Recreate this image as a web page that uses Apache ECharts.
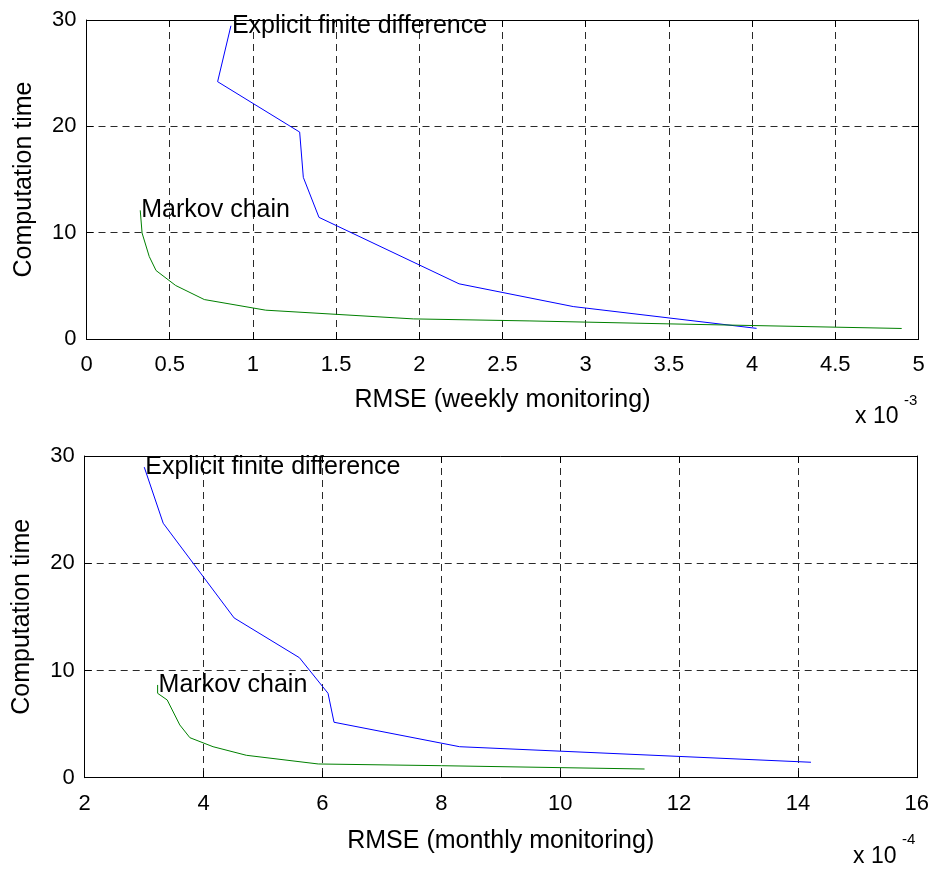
<!DOCTYPE html>
<html>
<head>
<meta charset="utf-8">
<script src="https://cdn.jsdelivr.net/npm/echarts@6/dist/echarts.min.js"></script>
<style>html,body{margin:0;padding:0;background:#fff;}#chart{width:932px;height:869px;}</style>
</head>
<body>
<div id="chart"></div>
<script>
// Weekly monitoring (RMSE in units of 1e-3)
const fdWeeklyRmse = [0.868, 0.788, 1.281, 1.303, 1.397, 2.239, 2.925, 4.027];
const fdWeeklyTime = [29.46, 24.2, 19.46, 15.2, 11.44, 5.19, 3.05, 1.0];
const mcWeeklyRmse = [0.323, 0.334, 0.377, 0.418, 0.536, 0.708, 1.077, 1.964, 2.665, 3.507, 4.899];
const mcWeeklyTime = [12.1, 9.97, 7.76, 6.44, 5.03, 3.71, 2.71, 1.89, 1.70, 1.42, 0.99];
// Monthly monitoring (RMSE in units of 1e-4)
const fdMonthlyRmse = [3.002, 3.321, 4.514, 5.613, 6.094, 6.195, 8.308, 14.22];
const fdMonthlyTime = [28.96, 23.73, 14.9, 11.19, 7.87, 5.17, 2.89, 1.44];
const mcMonthlyRmse = [3.227, 3.227, 3.388, 3.60, 3.77, 4.16, 4.72, 5.93, 8.0, 11.42];
const mcMonthlyTime = [8.65, 7.87, 7.25, 4.92, 3.73, 2.89, 2.09, 1.28, 1.12, 0.81];

const fdLabel = 'Explicit finite difference';
const mcLabel = 'Markov chain';
const yName = 'Computation time';
const xNameWeekly = 'RMSE (weekly monitoring)';
const xNameMonthly = 'RMSE (monthly monitoring)';

const FONT = '"Liberation Sans", Arial, Helvetica, sans-serif';
const zip = (xs, ys) => xs.map((x, i) => [x, ys[i]]);

const gridLine = { show: true, lineStyle: { color: '#2a2a2a', type: [7, 5], width: 1 } };
const axLine = { show: true, onZero: false, lineStyle: { color: '#000', width: 1 } };
const tick = { show: true, inside: true, length: 7, lineStyle: { color: '#000' } };

function xAxes(gi, min, max, interval, name, gap) {
  return [
    { type: 'value', gridIndex: gi, min, max, interval, position: 'bottom',
      name, nameLocation: 'middle', nameGap: gap,
      nameTextStyle: { fontSize: 25, color: '#000', fontFamily: FONT },
      axisLine: axLine, axisTick: tick, splitLine: gridLine,
      axisLabel: { fontSize: 22, color: '#000', fontFamily: FONT, margin: 15 } },
    { type: 'value', gridIndex: gi, min, max, interval, position: 'top',
      axisLine: axLine, axisTick: tick, splitLine: { show: false }, axisLabel: { show: false } }
  ];
}
function yAxes(gi) {
  return [
    { type: 'value', gridIndex: gi, min: 0, max: 30, interval: 10, position: 'left',
      name: yName, nameLocation: 'middle', nameGap: 50, nameRotate: 90,
      nameTextStyle: { fontSize: 25, color: '#000', fontFamily: FONT },
      axisLine: axLine, axisTick: tick, splitLine: gridLine,
      axisLabel: { fontSize: 22, color: '#000', fontFamily: FONT, margin: 10 } },
    { type: 'value', gridIndex: gi, min: 0, max: 30, interval: 10, position: 'right',
      axisLine: axLine, axisTick: tick, splitLine: { show: false }, axisLabel: { show: false } }
  ];
}
function lineSeries(xi, yi, xs, ys, color) {
  return { type: 'line', xAxisIndex: xi, yAxisIndex: yi, data: zip(xs, ys),
    showSymbol: false, symbol: 'none', lineStyle: { color, width: 1 }, itemStyle: { color },
    z: 5, silent: true };
}
function textSeries(xi, yi, x, y, text) {
  return { type: 'scatter', xAxisIndex: xi, yAxisIndex: yi, data: [[x, y]], symbolSize: 0,
    itemStyle: { opacity: 1, color: '#000' },
    label: { show: true, position: 'right', distance: 1, formatter: text, opacity: 1,
      fontSize: 25, color: '#000', fontFamily: FONT }, z: 6, silent: true };
}

const xs = [].concat(xAxes(0, 0, 5, 0.5, xNameWeekly, 49), xAxes(1, 2, 16, 2, xNameMonthly, 51));
const ys = [].concat(yAxes(0), yAxes(1));

function txt(x, y, text, size) {
  return { type: 'text', x, y, z: 10,
    style: { text, fontSize: size, fontFamily: FONT, fill: '#000', verticalAlign: 'middle', align: 'left' } };
}

const option = {
  animation: false,
  backgroundColor: '#fff',
  textStyle: { fontFamily: FONT },
  grid: [
    { left: 86.5, right: 13.5, top: 20, height: 319, show: false },
    { left: 84.7, right: 14.5, top: 456, height: 321.7, show: false }
  ],
  xAxis: xs,
  yAxis: ys,
  series: [
    lineSeries(0, 0, fdWeeklyRmse, fdWeeklyTime, '#0000ff'),
    lineSeries(0, 0, mcWeeklyRmse, mcWeeklyTime, '#008000'),
    textSeries(0, 0, fdWeeklyRmse[0], fdWeeklyTime[0], fdLabel),
    textSeries(0, 0, mcWeeklyRmse[0], mcWeeklyTime[0], mcLabel),
    lineSeries(2, 2, fdMonthlyRmse, fdMonthlyTime, '#0000ff'),
    lineSeries(2, 2, mcMonthlyRmse, mcMonthlyTime, '#008000'),
    textSeries(2, 2, fdMonthlyRmse[0], fdMonthlyTime[0], fdLabel),
    textSeries(2, 2, mcMonthlyRmse[0], mcMonthlyTime[0], mcLabel)
  ],
  graphic: [
    txt(855, 417, 'x 10', 23),
    txt(904, 401, '-3', 15),
    txt(853, 857, 'x 10', 23),
    txt(902, 840, '-4', 15)
  ]
};

const chart = echarts.init(document.getElementById('chart'), null, { renderer: 'canvas' });
chart.setOption(option);
</script>
</body>
</html>
